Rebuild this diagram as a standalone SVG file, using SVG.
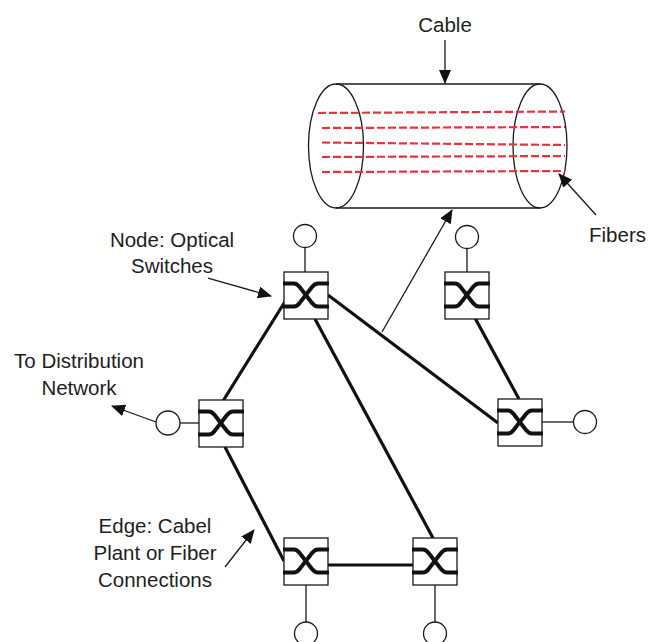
<svg xmlns="http://www.w3.org/2000/svg" width="649" height="642" viewBox="0 0 649 642">
  <defs>
    <style>
      text { font-family: "Liberation Sans", Arial, Helvetica, sans-serif; font-size: 20.5px; fill: #1e1e1e; }
      .mid { text-anchor: middle; }
      .outline { fill: #fff; stroke: #1a1a1a; stroke-width: 1.3; }
      .stem { stroke: #1a1a1a; stroke-width: 1.3; fill: none; }
      .bar { fill: none; stroke: #111; stroke-width: 4; stroke-linecap: butt; stroke-linejoin: round; }
      .link { stroke: #111; stroke-width: 3.2; fill: none; }
      .pointer { stroke: #1a1a1a; stroke-width: 1.3; fill: none; marker-end: url(#head); }
      .fiber { stroke: #e8333b; stroke-width: 2.2; stroke-dasharray: 8 3; fill: none; }
    </style>
    <marker id="head" markerUnits="userSpaceOnUse" markerWidth="14" markerHeight="12" viewBox="0 0 14 12" refX="13" refY="6" orient="auto">
      <path d="M0,0 L14,6 L0,12 z" fill="#111"/>
    </marker>
    <!-- optical switch: box with two crossing bars, origin at top-left corner -->
    <g id="switch">
      <rect class="outline" x="0" y="0" width="44" height="47"/>
      <path class="bar" d="M-1,11.5 H10 C13,11.5 14,13 16,15.5 L28,31 C30,33.5 31,34.5 34,34.5 H45"/>
      <path class="bar" d="M-1,34.5 H10 C13,34.5 14,33 16,30.5 L28,15 C30,12.5 31,11.5 34,11.5 H45"/>
    </g>
  </defs>

  <rect width="649" height="642" fill="#fff"/>

  <!-- cable cylinder with fibers -->
  <g id="cable">
    <path class="stem" d="M336,84 H540 M336,208 H540"/>
    <ellipse class="stem" cx="336" cy="146" rx="27.5" ry="62"/>
    <ellipse class="stem" cx="540" cy="146" rx="27" ry="62"/>
    <path class="fiber" d="M318,113 L565,111.5"/>
    <path class="fiber" d="M322,128 L565,127"/>
    <path class="fiber" d="M322,142.5 L565,145"/>
    <path class="fiber" d="M322,157 L565,156"/>
    <path class="fiber" d="M322,172 L565,171"/>
  </g>

  <!-- links between switches -->
  <g id="links">
    <line class="link" x1="223" y1="401" x2="286" y2="300"/>
    <line class="link" x1="225" y1="447" x2="284" y2="561"/>
    <line class="link" x1="328" y1="295" x2="498" y2="423"/>
    <line class="link" x1="315" y1="319" x2="433" y2="538"/>
    <line class="link" x1="475" y1="318" x2="519" y2="399"/>
    <line class="link" x1="328" y1="565" x2="413" y2="565"/>
  </g>

  <!-- switch nodes with their access ports -->
  <g id="node-top">
    <line class="stem" x1="305" y1="247" x2="305" y2="272"/>
    <circle class="outline" cx="305" cy="236" r="11.5"/>
    <use href="#switch" x="284" y="272"/>
  </g>
  <g id="node-top-right">
    <line class="stem" x1="467" y1="248" x2="467" y2="272"/>
    <circle class="outline" cx="467" cy="237" r="11.5"/>
    <use href="#switch" x="445" y="272"/>
  </g>
  <g id="node-right">
    <line class="stem" x1="542" y1="422" x2="574" y2="422"/>
    <circle class="outline" cx="585" cy="422" r="11.5"/>
    <use href="#switch" x="498" y="399"/>
  </g>
  <g id="node-left">
    <line class="stem" x1="180" y1="423" x2="199" y2="423"/>
    <circle class="outline" cx="168" cy="423" r="12"/>
    <use href="#switch" x="199" y="400"/>
  </g>
  <g id="node-bottom-left">
    <line class="stem" x1="306" y1="585" x2="306" y2="622"/>
    <circle class="outline" cx="306" cy="633.5" r="11.5"/>
    <use href="#switch" x="284" y="538"/>
  </g>
  <g id="node-bottom-right">
    <line class="stem" x1="435" y1="585" x2="435" y2="622"/>
    <circle class="outline" cx="435" cy="633.5" r="11.5"/>
    <use href="#switch" x="413" y="538"/>
  </g>

  <!-- callout arrows -->
  <g id="pointers">
    <line class="pointer" x1="445" y1="40" x2="445" y2="83"/>
    <line class="pointer" x1="596" y1="215" x2="559" y2="174"/>
    <line class="pointer" x1="382" y1="332" x2="452" y2="210"/>
    <line class="pointer" x1="208" y1="278" x2="271" y2="296"/>
    <line class="pointer" x1="156" y1="422" x2="112" y2="406"/>
    <line class="pointer" x1="225" y1="567" x2="254" y2="530"/>
  </g>

  <!-- labels -->
  <g id="labels">
    <text class="mid" x="445" y="32">Cable</text>
    <text x="589" y="242">Fibers</text>
    <text class="mid" x="172" y="247">Node: Optical</text>
    <text class="mid" x="172" y="273">Switches</text>
    <text class="mid" x="79" y="368">To Distribution</text>
    <text class="mid" x="79" y="395">Network</text>
    <text class="mid" x="155" y="533">Edge: Cabel</text>
    <text class="mid" x="155" y="560">Plant or Fiber</text>
    <text class="mid" x="155" y="587">Connections</text>
  </g>
</svg>
